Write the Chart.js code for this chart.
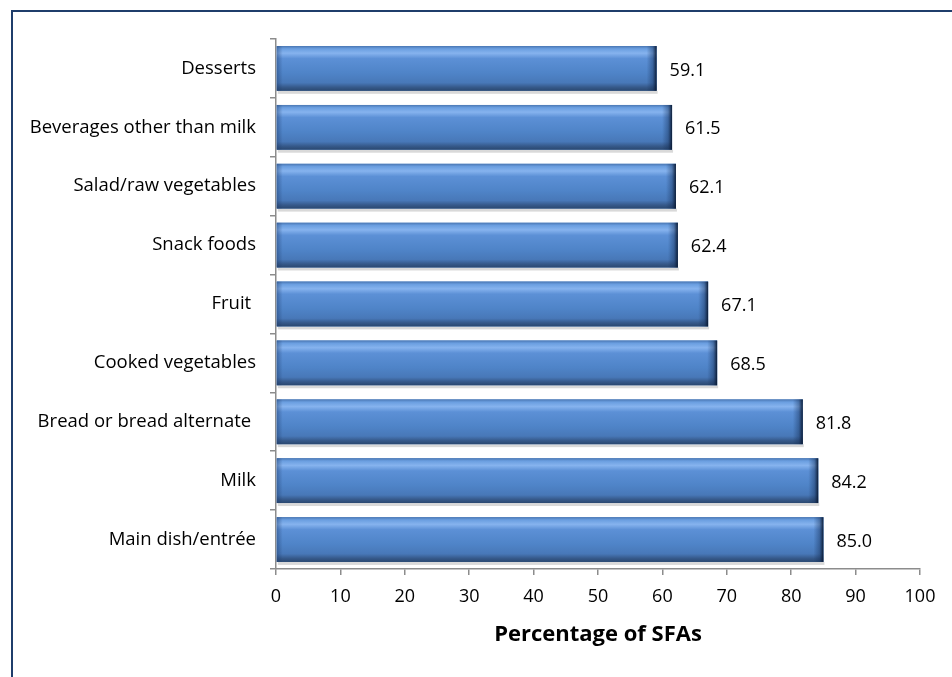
<!DOCTYPE html>
<html>
<head>
<meta charset="utf-8">
<script src="https://cdn.jsdelivr.net/npm/chart.js@4.4.1/dist/chart.umd.min.js"></script>
<style>
  html, body { margin: 0; padding: 0; background: #ffffff; }
  #wrap { width: 952px; height: 677px; position: relative; }
</style>
</head>
<body>
<div id="wrap"><canvas id="sfaChart" width="952" height="677"></canvas></div>
<script>
// categorieen en waarden (van boven naar beneden)
const foodGroups = [
  'Desserts',
  'Beverages other than milk',
  'Salad/raw vegetables',
  'Snack foods',
  'Fruit ',
  'Cooked vegetables',
  'Bread or bread alternate ',
  'Milk',
  'Main dish/entrée'
];
const sfaPercent = [59.1, 61.5, 62.1, 62.4, 67.1, 68.5, 81.8, 84.2, 85.0];
const xTicks = [0, 10, 20, 30, 40, 50, 60, 70, 80, 90, 100];

const FONT = '"Open Sans", Lato, sans-serif';

// kader rond de grafiek
const framePlugin = {
  id: 'frame',
  beforeDraw(chart) {
    const ctx = chart.ctx;
    ctx.save();
    ctx.strokeStyle = '#1f3d6b';
    ctx.lineWidth = 2;
    ctx.strokeRect(12, 11, 1200, 1200);
    ctx.restore();
  }
};

// bevel look voor de balken + schaduw eronder
const bevelPlugin = {
  id: 'bevel',
  afterDatasetsDraw(chart) {
    const ctx = chart.ctx;
    const meta = chart.getDatasetMeta(0);
    ctx.save();
    meta.data.forEach((bar) => {
      const left = bar.base;
      const right = bar.x;
      const top = bar.y - bar.height / 2;
      const h = bar.height;
      const w = right - left;

      // schaduw
      ctx.fillStyle = 'rgba(0,0,0,0.15)';
      ctx.fillRect(left + 1, top + h, w, 3);

      const g = ctx.createLinearGradient(0, top, 0, top + h);
      g.addColorStop(0, '#4a77b3');
      g.addColorStop(0.06, '#6a9ee0');
      g.addColorStop(0.16, '#86b3ee');
      g.addColorStop(0.28, '#5c90d6');
      g.addColorStop(0.6, '#4f84c8');
      g.addColorStop(0.82, '#4878b8');
      g.addColorStop(0.92, '#36598a');
      g.addColorStop(1, '#2a4870');
      ctx.fillStyle = g;
      ctx.fillRect(left, top, w, h);

      // donkere rechterkant
      const gr = ctx.createLinearGradient(right - 10, 0, right, 0);
      gr.addColorStop(0, 'rgba(20,45,85,0)');
      gr.addColorStop(0.6, 'rgba(20,45,85,0.4)');
      gr.addColorStop(1, 'rgba(8,22,45,0.95)');
      ctx.fillStyle = gr;
      ctx.fillRect(right - 10, top, 10, h);

      // linkerkant iets donkerder
      const gl = ctx.createLinearGradient(left, 0, left + 6, 0);
      gl.addColorStop(0, 'rgba(30,60,110,0.45)');
      gl.addColorStop(1, 'rgba(30,60,110,0)');
      ctx.fillStyle = gl;
      ctx.fillRect(left, top, 6, h);
    });

    // waarden naast de balken
    ctx.fillStyle = '#000000';
    ctx.font = '18px ' + FONT;
    ctx.textAlign = 'left';
    ctx.textBaseline = 'middle';
    meta.data.forEach((bar, i) => {
      ctx.fillText(sfaPercent[i].toFixed(1), bar.x + 13, bar.y + 2);
    });
    ctx.restore();
  }
};

new Chart(document.getElementById('sfaChart'), {
  type: 'bar',
  data: {
    labels: foodGroups,
    datasets: [{
      data: sfaPercent,
      backgroundColor: '#4f84c8',
      borderWidth: 0,
      barPercentage: 0.76,
      categoryPercentage: 1.0
    }]
  },
  options: {
    indexAxis: 'y',
    responsive: false,
    animation: false,
    layout: { padding: { top: 39, right: 32, left: 0, bottom: 29 } },
    plugins: {
      legend: { display: false },
      tooltip: { enabled: false }
    },
    scales: {
      x: {
        min: 0,
        max: 100,
        afterBuildTicks(scale) {
          scale.ticks = xTicks.map(v => ({ value: v }));
        },
        afterFit(scale) { scale.height = 79; },
        border: { color: '#8c8c8c', width: 1.5 },
        grid: { drawOnChartArea: false, color: '#8c8c8c', tickLength: 6, lineWidth: 1.5 },
        ticks: { color: '#000000', font: { family: FONT, size: 18 }, padding: 11, maxRotation: 0 },
        title: {
          display: true,
          text: 'Percentage of SFAs',
          color: '#000000',
          font: { family: FONT, size: 22, weight: 'bold' },
          padding: { top: 4, bottom: 0 }
        }
      },
      y: {
        afterFit(scale) { scale.width = 276; },
        border: { color: '#8c8c8c', width: 1.5 },
        grid: { drawOnChartArea: false, color: '#8c8c8c', tickLength: 6, lineWidth: 1.5, offset: true },
        ticks: { color: '#000000', font: { family: FONT, size: 18.5 }, padding: 14 }
      }
    }
  },
  plugins: [framePlugin, bevelPlugin]
});
</script>
</body>
</html>
